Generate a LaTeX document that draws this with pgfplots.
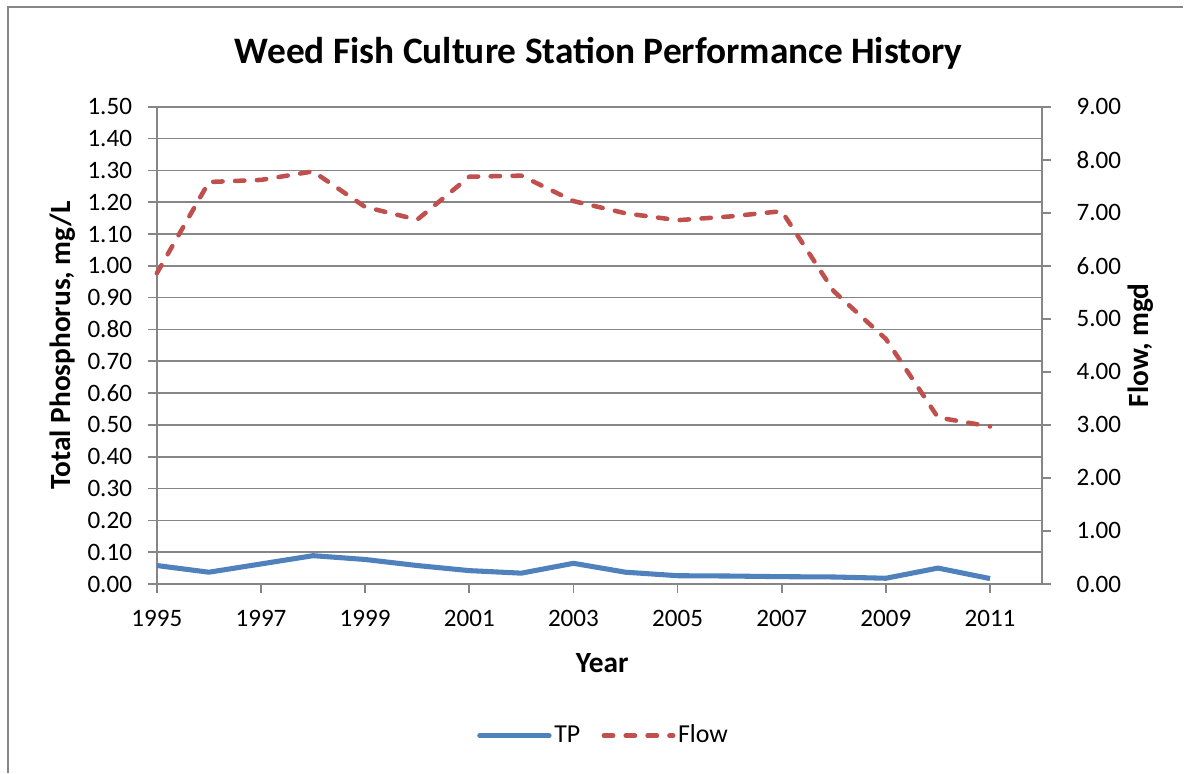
\documentclass[border=0pt]{standalone}
\usepackage{pgfplots}
\pgfplotsset{compat=1.18}
\usepackage{fontspec}
\setmainfont{Carlito}

\definecolor{tpblue}{RGB}{79,129,189}
\definecolor{flowred}{RGB}{192,80,77}
\definecolor{axgray}{RGB}{134,134,134}

% year, TP (mg/L), flow (mgd)
\pgfplotstableread{
year  tp     flow
1995  0.058  5.86
1996  0.037  7.58
1997  0.063  7.62
1998  0.089  7.78
1999  0.077  7.11
2000  0.058  6.87
2001  0.042  7.68
2002  0.034  7.70
2003  0.065  7.22
2004  0.037  6.99
2005  0.026  6.86
2006  0.025  6.93
2007  0.023  7.03
2008  0.022  5.52
2009  0.018  4.62
2010  0.050  3.14
2011  0.017  2.97
}\datatable

\pgfplotsset{
  chartbase/.style={
    width=332pt, height=179pt, scale only axis,
    xmin=1995, xmax=2012,
    xtick={1995,1997,...,2011},
    xticklabel style={/pgf/number format/1000 sep={}, yshift=-2.8pt},
    tick align=outside,
    major tick length=3.4pt,
    tick style={axgray, line width=0.6pt},
    axis line style={axgray, line width=0.6pt},
    tick label style={font=\fontsize{9.4}{11}\selectfont},
    /pgf/number format/assume math mode=true,
    yticklabel style={/pgf/number format/fixed, /pgf/number format/fixed zerofill,
      /pgf/number format/precision=2},
    clip=false,
  },
}

\begin{document}
\begin{tikzpicture}
\begin{axis}[
  chartbase,
  axis y line*=left, axis x line*=bottom,
  ymin=0, ymax=1.5, ytick distance=0.1,
  yticklabel style={xshift=-2.4pt},
  ymajorgrids, grid style={axgray, line width=0.6pt},
  title={Weed Fish Culture Station Performance History},
  title style={at={(axis description cs:0.499,1.079)}, anchor=center,
    font=\bfseries\fontsize{14}{16}\selectfont},
  xlabel={Year},
  xlabel style={at={(axis description cs:0.503,-0.165)}, anchor=center,
    font=\bfseries\fontsize{11}{13}\selectfont},
  ylabel={Total Phosphorus, mg/L},
  ylabel style={at={(axis description cs:-0.106,0.5)}, anchor=center,
    font=\bfseries\fontsize{11}{13}\selectfont},
]
\addplot[tpblue, line width=1.9pt, line join=round] table[x=year, y=tp] {\datatable};
\end{axis}

\begin{axis}[
  chartbase,
  axis y line*=right, axis x line=none,
  ymin=0, ymax=9, ytick distance=1,
  yticklabel style={xshift=6pt},
  ylabel={Flow, mgd},
  ylabel style={at={(axis description cs:1.111,0.5)}, anchor=center,
    font=\bfseries\fontsize{11}{13}\selectfont},
  legend columns=2,
  legend style={draw=none, at={(axis description cs:0.505,-0.318)}, anchor=center,
    font=\fontsize{9.7}{11}\selectfont, nodes={inner xsep=1pt},
    /tikz/every even column/.append style={column sep=7pt}},
  legend image code/.code={\draw[#1] (0pt,0pt) -- (26pt,0pt);},
]
\addlegendimage{tpblue, line width=1.9pt, line cap=round}
\addlegendentry{TP}
\addplot[flowred, line width=1.7pt, line cap=round, line join=round,
  dash pattern=on 3.5pt off 4.7pt] table[x=year, y=flow] {\datatable};
\addlegendentry{Flow}
% chart frame (left and top edges as in the reference crop)
\draw[axgray, line width=0.8pt] (rel axis cs:-0.168,-0.3958) -- (rel axis cs:-0.168,1.209)
  -- (rel axis cs:1.1591,1.209);
\path (rel axis cs:-0.1772,1.2236);
\end{axis}
\end{tikzpicture}
\end{document}
